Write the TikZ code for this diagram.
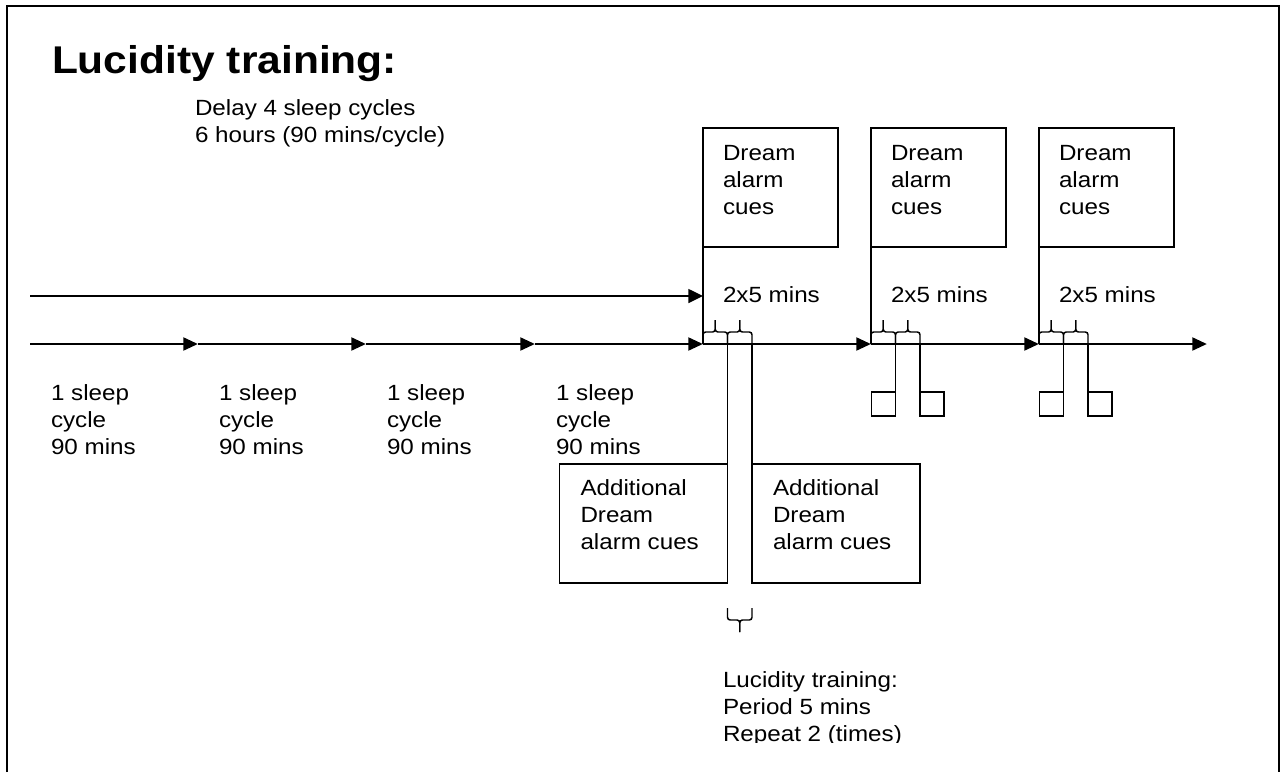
\documentclass[tikz,border=0pt]{standalone}
\usepackage{fontspec}
\setmainfont{Liberation Sans}[FakeStretch=1.1]
\usepackage{tikz}
\usetikzlibrary{arrows.meta,positioning,calc}

\begin{document}
\begin{tikzpicture}[
    x=0.75pt,y=-0.75pt,
    frame/.style={draw=black, line width=1.5pt},
    txt/.style={inner sep=0pt, outer sep=0pt, anchor=north west, align=left, font=\fontsize{16.5pt}{20.25pt}\selectfont},
    cuebox/.style={draw, line width=1.1pt, inner xsep=15pt, inner ysep=12.75pt, outer sep=0pt, anchor=north west, font=\fontsize{16.5pt}{20.25pt}\selectfont},
    addbox/.style={cuebox, inner xsep=15.75pt, inner ysep=12pt},
    tline/.style={-{Triangle[length=11pt,width=9.5pt]}, line width=2.2pt},
    delay/.style={-{Triangle[length=11pt,width=10.5pt]}, line width=1.1pt},
    edge/.style={line width=1.1pt},
    sq/.style={draw, line width=1.1pt, minimum size=18pt, inner sep=0pt, outer sep=0pt},
    brk/.pic={
      \draw[edge, rounded corners=2pt] (0,0) -- (0,-12) -- (12.25,-12) -- (12.25,-24);
      \draw[edge, rounded corners=2pt] (24.5,0) -- (24.5,-12) -- (12.25,-12) -- (12.25,-24);
    }
  ]
    \useasboundingbox (0,0) rectangle (1281,772);
    \draw[frame] (7,772) -- (7,6) -- (1279,6) -- (1279,772);

    \node[txt, font=\fontsize{29pt}{34pt}\selectfont\bfseries] (title) at (52,45) {Lucidity training:};
    \node[txt] (delaytxt) at (195,100) {Delay 4 sleep cycles\\6 hours (90 mins/cycle)};

    % timeline
    \foreach \n/\x in {0/30,1/198,2/366,3/535,4/703,5/871,6/1039,7/1207}{\coordinate (t\n) at (\x,344);}
    \foreach \a/\b in {0/1,1/2,2/3,3/4,4/5,5/6,6/7}{\draw[tline] (t\a) -- (t\b);}
    \foreach \n in {0,...,3}{\node[txt] (cyc\n) at ($(t\n)+(21,41)$) {1 sleep\\cycle\\90 mins};}

    % dream alarm cues
    \foreach \n/\t in {1/t4,2/t5,3/t6}{
      \node[cuebox] (cue\n) at ($(\t)+(0,-216)$) {\parbox[t][63.75pt][t]{71.25pt}{Dream\\alarm\\cues}};
      \draw[edge] (cue\n.south west) -- (\t);
      \node[txt] (rep\n) at ($(\t)+(20,-57)$) {2x5 mins};
      \pic at (\t) {brk};
      \pic at ($(\t)+(24.5,0)$) {brk};
    }
    \coordinate (d0) at (30,296);
    \draw[delay] (d0) -- (d0 -| cue1.west);

    % additional cues
    \coordinate (c1) at ($(t4)+(24.5,0)$);
    \coordinate (c2) at ($(t4)+(49,0)$);
    \node[addbox, anchor=north east] (add1) at ($(c1)+(0,120)$) {\parbox[t][65.25pt][t]{94.5pt}{Additional\\Dream\\alarm cues}};
    \node[addbox] (add2) at ($(c2)+(0,120)$) {\parbox[t][65.25pt][t]{94.5pt}{Additional\\Dream\\alarm cues}};
    \draw[edge] (c1) -- (add1.south east);
    \draw[edge] (c2) -- (add2.south west);
    \pic[yscale=-1] at ($(c1)+(0,264)$) {brk};
    \begin{scope}
      \clip (700,650) rectangle (1000,742);
      \node[txt] (lucid) at (723,672) {Lucidity training:\\Period 5 mins\\Repeat 2 (times)};
    \end{scope}

    % small cue squares
    \foreach \n/\t in {2/t5,3/t6}{
      \coordinate (q\n a) at ($(\t)+(24.5,0)$);
      \coordinate (q\n b) at ($(\t)+(49,0)$);
      \node[sq, anchor=south east] (sq\n a) at ($(q\n a)+(0,72)$) {};
      \node[sq, anchor=south west] (sq\n b) at ($(q\n b)+(0,72)$) {};
      \draw[edge] (q\n a) -- (sq\n a.south east);
      \draw[edge] (q\n b) -- (sq\n b.south west);
    }
\end{tikzpicture}
\end{document}
